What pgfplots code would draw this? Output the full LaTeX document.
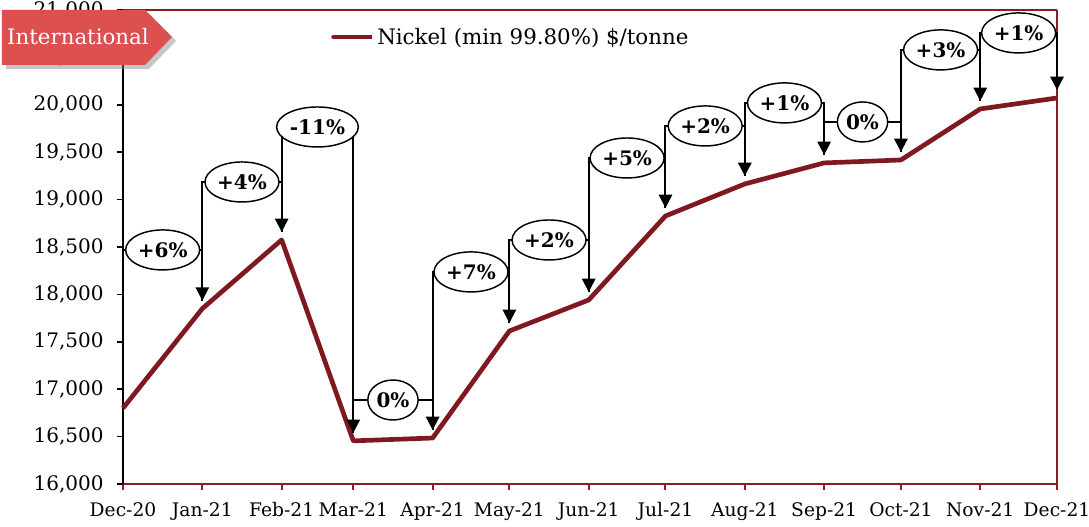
\documentclass[border=0pt]{standalone}
\usepackage{fontspec}
\setmainfont{DejaVu Serif}
\usepackage{pgfplots}
\pgfplotsset{compat=1.18}
\usetikzlibrary{arrows.meta,shadows,shapes.geometric}
\definecolor{nickel}{HTML}{7F1820}
\definecolor{spine}{HTML}{8C1C24}
\definecolor{tag}{HTML}{DC5050}

% month-on-month change bracket: xa ya xb yb ylabel text
\newcommand{\change}[6]{%
  \draw[line width=1.5pt,-{Triangle[length=10pt,width=10pt]}]
    ([yshift=6pt]axis cs:#1,#2) -- (axis cs:#1,#5) -- (axis cs:#3,#5)
    node[midway,draw,ellipse,fill=white,line width=1.1pt,inner xsep=1pt,inner ysep=4pt,
         minimum height=30pt,font=\fontsize{15}{17}\selectfont\bfseries]{#6}
    -- ([yshift=6pt]axis cs:#3,#4);}

\begin{document}
\begin{tikzpicture}[x=0.75pt,y=0.75pt]
\useasboundingbox (-123,-43) rectangle (966,484);
\begin{axis}[
  at={(0,0)}, anchor=south west, scale only axis,
  width=700.5pt, height=355.5pt,
  xmin=0, xmax=365, ymin=16000, ymax=21000,
  xtick={0,31,62,90,121,151,182,212,243,274,304,335,365},
  xticklabels={Dec-20,Jan-21,Feb-21,Mar-21,Apr-21,May-21,Jun-21,Jul-21,Aug-21,Sep-21,Oct-21,Nov-21,Dec-21},
  ytick={16000,16500,...,21000},
  scaled y ticks=false,
  /pgf/number format/1000 sep={,},
  /pgf/number format/assume math mode=true,
  xticklabel style={font=\fontsize{14}{16}\selectfont,yshift=-6pt},
  yticklabel style={font=\fontsize{15}{17}\selectfont,xshift=-6.5pt},
  axis line style={draw=none},
  tick align=outside, xtick pos=bottom, ytick pos=left,
  major tick length=4.5pt,
  xtick style={draw=spine,line width=1.5pt},
  ytick style={draw=black,line width=1.2pt},
  legend style={draw=none,fill=none,at={(0.2184,0.943)},anchor=west,
    font=\fontsize{16}{18}\selectfont},
  legend image code/.code={\draw[#1,line cap=round] (0pt,0pt) -- (24pt,0pt);
    \path (0pt,0pt) -- (29pt,0pt);},
  clip=false,
]
\draw[spine,line width=1.5pt] (rel axis cs:0,0) -- (rel axis cs:1,0) -- (rel axis cs:1,1);
\draw[spine,line width=1pt] (rel axis cs:0,1) -- (rel axis cs:1,1);
\draw[black,line width=1.5pt] (rel axis cs:0,0) -- (rel axis cs:0,1);

\addplot[nickel,line width=3.5pt,line join=round] coordinates {
  (0,16800) (31,17850) (62,18575) (90,16455) (121,16485) (151,17614) (182,17941)
  (212,18827) (243,19165) (274,19387) (304,19418) (335,19956) (365,20072)};
\addlegendentry{Nickel (min 99.80\%) \$/tonne}

\change{0}{16800}{31}{17850}{18469}{+6\%}
\change{31}{17850}{62}{18575}{19186}{+4\%}
\change{62}{18575}{90}{16455}{19766}{-11\%}
\change{90}{16455}{121}{16485}{16886}{0\%}
\change{121}{16485}{151}{17614}{18237}{+7\%}
\change{151}{17614}{182}{17941}{18574}{+2\%}
\change{182}{17941}{212}{18827}{19439}{+5\%}
\change{212}{18827}{243}{19165}{19777}{+2\%}
\change{243}{19165}{274}{19387}{20020}{+1\%}
\change{274}{19387}{304}{19418}{19819}{0\%}
\change{304}{19418}{335}{19956}{20579}{+3\%}
\change{335}{19956}{365}{20072}{20758}{+1\%}
\end{axis}
\fill[tag,drop shadow={opacity=0.45,shadow xshift=3pt,shadow yshift=-3pt}]
  (-121,474) -- (22,474) -- (49,447) -- (22,419) -- (-121,419) -- cycle;
\node[white,font=\fontsize{16}{18}\selectfont] at (-45,447) {International};
\end{tikzpicture}
\end{document}
